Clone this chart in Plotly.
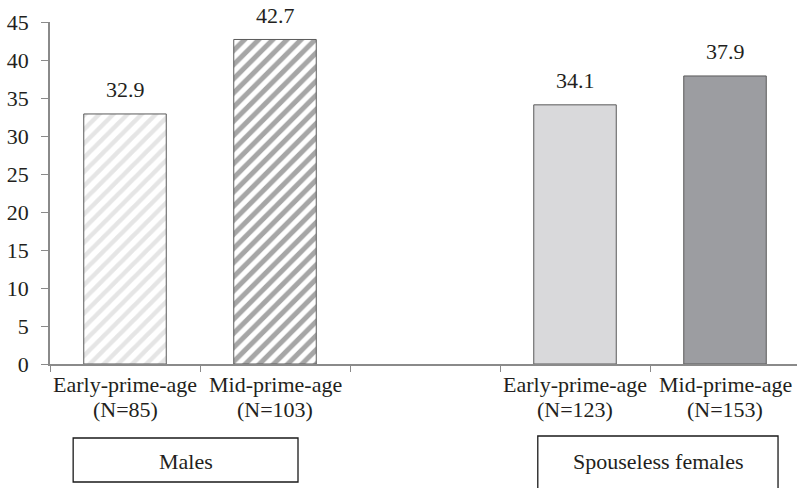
import plotly.graph_objects as go

categories = ["early_m", "mid_m", "gap", "early_f", "mid_f"]
label_line1 = ["Early-prime-age", "Mid-prime-age", "", "Early-prime-age", "Mid-prime-age"]
label_line2 = ["(N=85)", "(N=103)", "", "(N=123)", "(N=153)"]
bar_categories = ["early_m", "mid_m", "early_f", "mid_f"]
values = [32.9, 42.7, 34.1, 37.9]
group_labels = ["Males", "Spouseless females"]
y_ticks = [0, 5, 10, 15, 20, 25, 30, 35, 40, 45]

FONT = "Liberation Serif, Times New Roman, serif"
FS = 22
TXT = "#231f20"
AX = "#8a8a8a"

styles = [
    dict(color="white", pattern=dict(shape="/", fgcolor="#cccccc", bgcolor="white", size=10, solidity=0.45)),
    dict(color="white", pattern=dict(shape="/", fgcolor="#4d4d4d", bgcolor="white", size=10, solidity=0.5)),
    dict(color="#d9d9db"),
    dict(color="#9c9da1"),
]

fig = go.Figure()
for c, v, st in zip(bar_categories, values, styles):
    fig.add_trace(go.Bar(
        x=[c], y=[v], width=0.55,
        marker=dict(line=dict(color="#5a5a5a", width=1), **st),
        showlegend=False, hoverinfo="skip",
    ))

for c, v in zip(bar_categories, values):
    fig.add_annotation(x=c, y=v, text=f"{v}", showarrow=False, yshift=24,
                       font=dict(family=FONT, size=FS, color=TXT))

# two-line category labels
for c, l1, l2 in zip(categories, label_line1, label_line2):
    if l1:
        fig.add_annotation(x=c, xref="x", yref="paper", y=-0.0585, text=l1,
                           showarrow=False, yanchor="middle",
                           font=dict(family=FONT, size=FS, color=TXT))
        fig.add_annotation(x=c, xref="x", yref="paper", y=-0.1316, text=l2,
                           showarrow=False, yanchor="middle",
                           font=dict(family=FONT, size=FS, color=TXT))

# group boxes
boxes = [(0.031, 0.332, -0.2164, -0.345), (0.653, 0.9746, -0.2105, -0.40)]
for (x0, x1, y0, y1), lab in zip(boxes, group_labels):
    fig.add_shape(type="rect", xref="paper", yref="paper", x0=x0, x1=x1, y0=y0, y1=y1,
                  line=dict(color="#1a1a1a", width=1.3), fillcolor="white")
for (x0, x1, y0, y1), lab in zip(boxes, group_labels):
    fig.add_annotation(xref="paper", yref="paper", x=(x0 + x1) / 2, y=-0.2865, text=lab,
                       xanchor="center", yanchor="middle",
                       showarrow=False, font=dict(family=FONT, size=FS, color=TXT))

fig.update_layout(
    width=797, height=488, barmode="overlay",
    margin=dict(l=50, r=0, t=22, b=124),
    plot_bgcolor="white", paper_bgcolor="white",
    font=dict(family=FONT, size=FS, color=TXT),
    xaxis=dict(type="category", categoryorder="array", categoryarray=categories,
               range=[-0.5, 4.48], tickson="boundaries", ticks="outside", ticklen=6,
               tickcolor=AX, showline=True, linecolor=AX, linewidth=1.5,
               showgrid=False, automargin=False, showticklabels=False),
    yaxis=dict(range=[0, 45], tickvals=y_ticks, ticks="outside", ticklen=7,
               tickcolor=AX, showline=True, linecolor=AX, linewidth=1.5,
               showgrid=False, zeroline=False, ticklabelstandoff=8, automargin=False,
               tickfont=dict(family=FONT, size=FS, color=TXT)),
)

fig.write_html("out.html", config={"displayModeBar": False},
               post_script="document.body.style.margin='0px';document.body.style.overflow='hidden';")
